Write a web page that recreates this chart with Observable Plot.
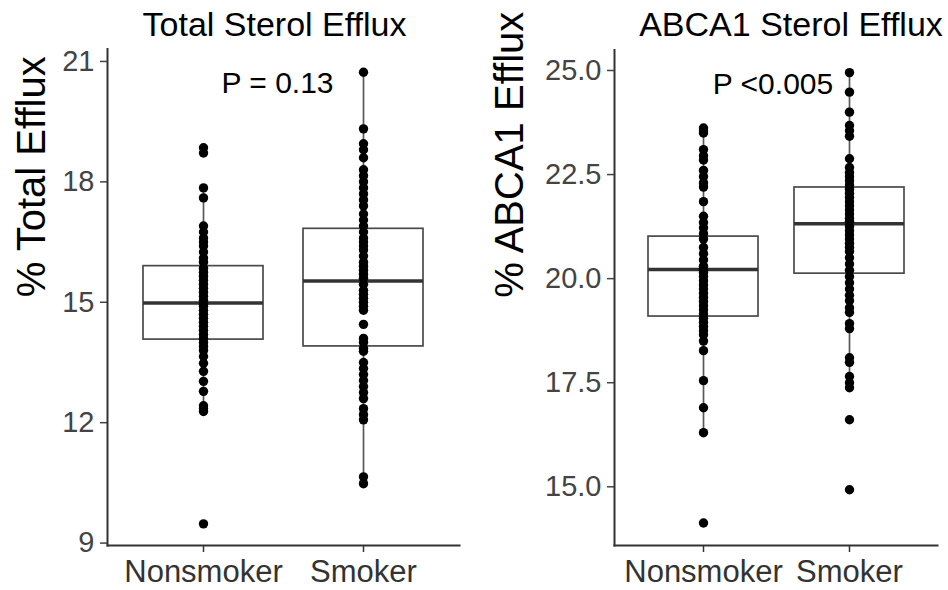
<!DOCTYPE html>
<html><head><meta charset="utf-8">
<script src="https://cdn.jsdelivr.net/npm/d3@7"></script>
<script src="https://cdn.jsdelivr.net/npm/@observablehq/plot@0.6"></script>
<style>
body{margin:0;background:#fff;}
#wrap{position:relative;width:948px;height:590px;overflow:hidden;background:#fff;}
#wrap svg{position:absolute;top:0;}
</style></head><body><div id="wrap"></div>
<script>
// ---------- data ----------
const groups = ["Nonsmoker", "Smoker"];
const panelTitles = ["Total Sterol Efflux", "ABCA1 Sterol Efflux"];
const yLabels = ["% Total Efflux", "% ABCA1 Efflux"];
const pLabels = ["P = 0.13", "P <0.005"];
const pLabelY = [20.45, 24.66];
const totalTicks = [9, 12, 15, 18, 21];
const abcaTicks = [15, 17.5, 20, 22.5, 25];

const totalNonsmoker = [18.85, 18.72, 17.85, 17.6, 16.9, 16.75, 16.6, 16.5, 16.4, 16.25, 16.1, 16.0,
  15.85, 15.75, 15.65, 15.55, 15.45, 15.35, 15.25, 15.15, 15.05, 14.95, 14.9, 14.8, 14.7, 14.6,
  14.5, 14.4, 14.3, 14.2, 14.1, 14.0, 13.9, 13.8, 13.65, 13.48, 13.28, 13.03, 12.78, 12.42,
  12.35, 12.28, 9.48];
const totalSmoker = [20.73, 19.32, 18.95, 18.8, 18.6, 18.3, 18.15, 18.0, 17.85, 17.7, 17.55, 17.4,
  17.2, 17.05, 16.9, 16.75, 16.6, 16.5, 16.4, 16.3, 16.15, 16.0, 15.9, 15.8, 15.7, 15.6, 15.45,
  15.3, 15.2, 15.1, 15.0, 14.9, 14.8, 14.45, 14.1, 14.0, 13.85, 13.78, 13.5, 13.35, 13.2, 13.05,
  12.9, 12.75, 12.6, 12.35, 12.2, 12.07, 10.65, 10.48];
const abcaNonsmoker = [23.62, 23.55, 23.5, 23.1, 22.95, 22.85, 22.6, 22.45, 22.3, 22.2, 21.85, 21.5,
  21.35, 21.22, 21.08, 20.95, 20.75, 20.6, 20.45, 20.3, 20.25, 20.2, 20.15, 20.05, 19.95, 19.85,
  19.75, 19.65, 19.55, 19.45, 19.35, 19.25, 19.15, 19.05, 18.95, 18.85, 18.75, 18.65, 18.5,
  18.27, 17.55, 16.9, 16.3, 14.13];
const abcaSmoker = [24.95, 24.48, 24.0, 23.68, 23.55, 23.42, 22.88, 22.67, 22.55, 22.45, 22.35,
  22.25, 22.15, 22.05, 21.95, 21.85, 21.75, 21.65, 21.55, 21.45, 21.38, 21.25, 21.15, 21.05,
  20.95, 20.85, 20.75, 20.65, 20.5, 20.35, 20.2, 20.05, 19.9, 19.75, 19.6, 19.47, 19.3, 19.19,
  18.92, 18.8, 18.1, 17.99, 17.65, 17.5, 17.38, 16.61, 14.93];

// box statistics, in the order of groups
const totalQ1 = [14.07, 13.90];
const totalMedian = [14.98, 15.53];
const totalQ3 = [15.90, 16.83];
const totalWhiskerLo = [12.28, 10.48];
const totalWhiskerHi = [17.85, 20.73];
const abcaQ1 = [19.09, 20.12];
const abcaMedian = [20.22, 21.32];
const abcaQ3 = [21.01, 22.19];
const abcaWhiskerLo = [16.3, 17.38];
const abcaWhiskerHi = [23.62, 24.95];

// ---------- build ----------
const FONT = "'Liberation Sans', Arial, Helvetica, sans-serif";

function stats(q1, med, q3, lo, hi) {
  return groups.map((g, i) => ({group: g, q1: q1[i], median: med[i], q3: q3[i], lo: lo[i], hi: hi[i]}));
}
function points(a, b) {
  return [...a.map(v => ({group: groups[0], value: v})), ...b.map(v => ({group: groups[1], value: v}))];
}

function panel({idx, box, pts, ticks, fmt, domain, mL, mR, mT, titleDx, pDx, yLabelDx}) {
  return Plot.plot({
    width: 474, height: 590,
    marginLeft: mL, marginRight: mR, marginTop: mT, marginBottom: 45,
    style: {fontFamily: FONT, background: "white", overflow: "visible"},
    x: {type: "band", domain: groups, paddingInner: 0.25, paddingOuter: 0.225, align: 0.5, axis: null},
    y: {domain, axis: null},
    marks: [
      Plot.ruleX(box, {x: "group", y1: "lo", y2: "q1", stroke: "#5a5a5a", strokeWidth: 1.7}),
      Plot.ruleX(box, {x: "group", y1: "q3", y2: "hi", stroke: "#5a5a5a", strokeWidth: 1.7}),
      Plot.barY(box, {x: "group", y1: "q1", y2: "q3", fill: "white", stroke: "#4a4a4a", strokeWidth: 1.7}),
      Plot.tickY(box, {x: "group", y: "median", stroke: "#333", strokeWidth: 3.5}),
      Plot.dot(pts, {x: "group", y: "value", r: 4.7, fill: "black", stroke: "none"}),
      Plot.axisY({ticks, tickFormat: fmt, tickSize: 7, tickPadding: 6, fontSize: 29, color: "#444", strokeWidth: 1.5, label: null}),
      Plot.axisX({tickSize: 7, tickPadding: 7, fontSize: 31, color: "#333", strokeWidth: 1.5, label: null}),
      Plot.frame({anchor: "left", stroke: "#333", strokeWidth: 2}),
      Plot.frame({anchor: "bottom", stroke: "#333", strokeWidth: 2}),
      Plot.text([{label: pLabels[idx], y: pLabelY[idx]}], {y: "y", text: "label", dx: pDx, fontSize: 30, fill: "black", lineAnchor: "middle"}),
      Plot.text([panelTitles[idx]], {frameAnchor: "top", dx: titleDx, dy: -(mT - 35), lineAnchor: "bottom", fontSize: 34, fill: "black"}),
      Plot.text([yLabels[idx]], {frameAnchor: "left", rotate: -90, dx: yLabelDx, fontSize: 40, fill: "black", lineAnchor: "middle"})
    ]
  });
}

const left = panel({
  idx: 0,
  box: stats(totalQ1, totalMedian, totalQ3, totalWhiskerLo, totalWhiskerHi),
  pts: points(totalNonsmoker, totalSmoker),
  ticks: totalTicks, fmt: d3.format("d"), domain: [8.94, 21.31],
  mL: 107, mR: 15, mT: 48.5, titleDx: -9, pDx: -6, yLabelDx: -75
});
const right = panel({
  idx: 1,
  box: stats(abcaQ1, abcaMedian, abcaQ3, abcaWhiskerLo, abcaWhiskerHi),
  pts: points(abcaNonsmoker, abcaSmoker),
  ticks: abcaTicks, fmt: d3.format(".1f"), domain: [13.59, 25.49],
  mL: 140, mR: 11, mT: 49.6, titleDx: 15, pDx: -3, yLabelDx: -104
});
left.style.left = "0px";
right.style.left = "474px";
const wrap = document.getElementById("wrap");
wrap.appendChild(left);
wrap.appendChild(right);
</script>
</body></html>
